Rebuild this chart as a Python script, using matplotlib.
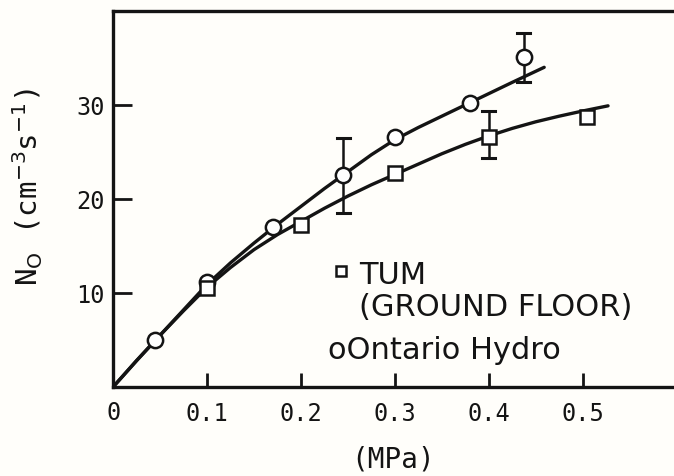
import matplotlib
matplotlib.use("Agg")
import matplotlib.pyplot as plt

# measured points
ont_x = [0.045, 0.10, 0.17, 0.245, 0.30, 0.38, 0.437]
ont_y = [5.0, 11.2, 17.0, 22.5, 26.6, 30.2, 35.1]
tum_x = [0.10, 0.20, 0.30, 0.40, 0.505]
tum_y = [10.5, 17.2, 22.7, 26.6, 28.7]

# error bars (x, low, high)
ont_err_x = [0.245, 0.437]
ont_err_lo = [18.5, 32.4]
ont_err_hi = [26.5, 37.6]
tum_err_x = [0.40]
tum_err_lo = [24.4]
tum_err_hi = [29.3]

# fitted curves
ont_fit_x = [0.0, 0.025, 0.05, 0.075, 0.10, 0.125, 0.15, 0.175, 0.20, 0.225, 0.25, 0.275,
             0.30, 0.325, 0.35, 0.375, 0.40, 0.425, 0.459]
ont_fit_y = [0.0, 2.8, 5.5, 8.2, 10.9, 13.2, 15.3, 17.3, 19.2, 21.1, 22.9, 24.7,
             26.3, 27.6, 28.8, 30.0, 31.2, 32.4, 34.0]
tum_fit_x = [0.0, 0.025, 0.05, 0.075, 0.10, 0.125, 0.15, 0.175, 0.20, 0.225, 0.25, 0.275,
             0.30, 0.325, 0.35, 0.375, 0.40, 0.425, 0.45, 0.475, 0.50, 0.527]
tum_fit_y = [0.0, 2.8, 5.5, 8.1, 10.6, 12.7, 14.6, 16.2, 17.6, 19.0, 20.3, 21.5,
             22.6, 23.7, 24.8, 25.8, 26.7, 27.5, 28.2, 28.8, 29.35, 29.9]

ink = "#141414"
paper = "#fffefa"
mono = "DejaVu Sans Mono"

fig = plt.figure(figsize=(6.74, 4.77), dpi=100, facecolor=paper)
ax = fig.add_axes([0.168, 0.187, 0.84, 0.788], facecolor=paper)

ax.plot(ont_fit_x, ont_fit_y, color=ink, lw=2.4, solid_capstyle="round", zorder=2)
ax.plot(tum_fit_x, tum_fit_y, color=ink, lw=2.4, solid_capstyle="round", zorder=2)

for x, lo, hi in zip(ont_err_x + tum_err_x, ont_err_lo + tum_err_lo, ont_err_hi + tum_err_hi):
    ax.plot([x, x], [lo, hi], color=ink, lw=1.8, zorder=1)
    ax.plot([x - 0.007, x + 0.007], [lo, lo], color=ink, lw=2.2, zorder=1)
    ax.plot([x - 0.007, x + 0.007], [hi, hi], color=ink, lw=2.2, zorder=1)

ax.plot(ont_x, ont_y, "o", ms=11, mfc="white", mec=ink, mew=1.8, ls="none", zorder=3)
ax.plot(tum_x, tum_y, "s", ms=9.5, mfc="white", mec=ink, mew=1.8, ls="none", zorder=3)

ax.set_xlim(0, 0.603)
ax.set_ylim(0, 40)
ax.spines["right"].set_visible(False)
for s in ["left", "bottom", "top"]:
    ax.spines[s].set_linewidth(2.4)
    ax.spines[s].set_color(ink)

ax.set_xticks([0.1, 0.2, 0.3, 0.4, 0.5])
ax.set_xticklabels(["0.1", "0.2", "0.3", "0.4", "0.5"], fontfamily=mono, fontsize=17)
ax.set_yticks([10, 20, 30])
ax.set_yticklabels(["10", "20", "30"], fontfamily=mono, fontsize=17)
ax.tick_params(axis="x", direction="in", length=10, width=2, color=ink, pad=10, labelcolor=ink)
ax.tick_params(axis="y", direction="in", length=14, width=2, color=ink, pad=6, labelcolor=ink)
ax.text(0, -0.035, "0", transform=ax.get_xaxis_transform(), ha="center", va="top",
        fontfamily=mono, fontsize=17, color=ink)

ax.set_ylabel(r"N$_\mathrm{O}$ (cm$^{-3}$s$^{-1}$)", fontfamily=mono, fontsize=21, color=ink)
ax.yaxis.set_label_coords(-0.12, 0.535)
ax.text(0.298, -0.19, "(MPa)", transform=ax.get_xaxis_transform(), ha="center", va="center",
        fontfamily=mono, fontsize=20, color=ink)

# legend, hand placed like the original
ax.plot([0.243], [12.3], "s", ms=7, mfc="white", mec=ink, mew=1.8, clip_on=False)
ax.text(0.262, 12.0, "TUM", fontsize=22, color=ink, va="center")
ax.text(0.262, 8.5, "(GROUND FLOOR)", fontsize=22, color=ink, va="center")
ax.text(0.229, 4.0, "oOntario Hydro", fontsize=22, color=ink, va="center")

fig.savefig("out.png", dpi=100, facecolor=paper)
